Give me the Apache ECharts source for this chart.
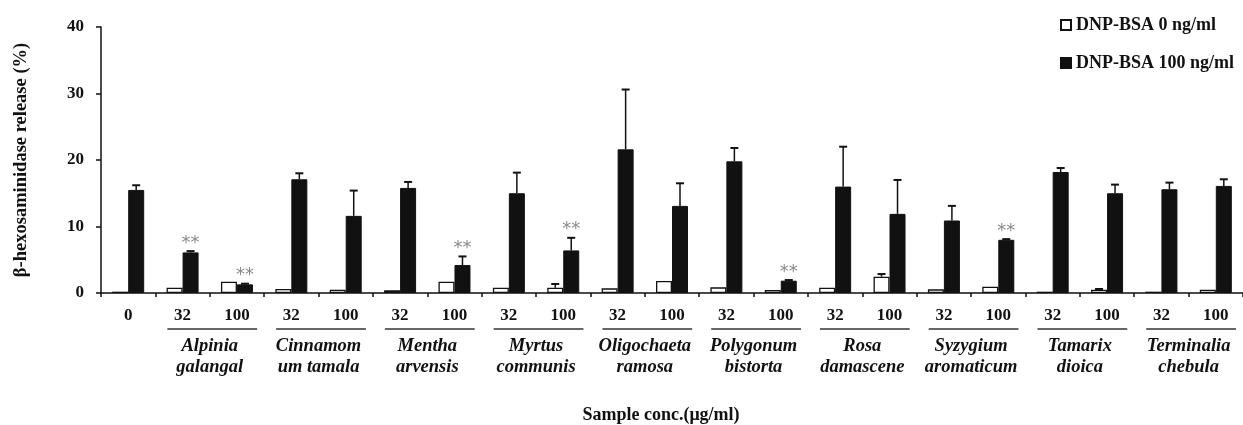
<!DOCTYPE html>
<html>
<head>
<meta charset="utf-8">
<script src="https://cdn.jsdelivr.net/npm/echarts@6/dist/echarts.min.js"></script>
<style>html,body{margin:0;padding:0;background:#fff;}#c{width:1243px;height:425px;}</style>
</head>
<body>
<div id="c"></div>
<script>
// ---- data ----
const categories = ['0','32','100','32','100','32','100','32','100','32','100','32','100','32','100','32','100','32','100','32','100'];
const species = ['Alpinia\ngalangal','Cinnamom\num tamala','Mentha\narvensis','Myrtus\ncommunis','Oligochaeta\nramosa','Polygonum\nbistorta','Rosa\ndamascene','Syzygium\naromaticum','Tamarix\ndioica','Terminalia\nchebula'];
const ctrlValues = [0.2,0.8,1.7,0.6,0.5,0.4,1.7,0.8,0.8,0.7,1.8,0.85,0.45,0.8,2.45,0.55,0.95,0.2,0.5,0.2,0.5];
const ctrlSD     = [0,0,0,0,0,0,0,0,0.55,0,0,0,0,0,0.4,0,0,0,0.1,0,0];
const stimValues = [15.5,6.1,1.3,17.1,11.6,15.8,4.2,15.0,6.4,21.6,13.1,19.8,1.85,16.0,11.9,10.9,8.0,18.2,15.0,15.6,16.1];
const stimSD     = [0.7,0.2,0.1,0.9,3.8,0.9,1.3,3.1,1.9,9.0,3.4,2.0,0.1,6.0,5.1,2.2,0.1,0.6,1.3,1.0,1.0];
const significant = [1,2,6,8,12,16];
const yTicks = [0,10,20,30,40];
const seriesNames = ['DNP-BSA 0 ng/ml','DNP-BSA 100 ng/ml'];

// ---- chart ----
const FONT = '"Liberation Serif", "Times New Roman", serif';
const BAR_W = 16;
const chart = echarts.init(document.getElementById('c'), null, {renderer:'canvas'});

function errRender(sign){
  return function(params, api){
    const x = api.value(0), v = api.value(1), e = api.value(2);
    if (!e) return null;
    const p0 = api.coord([x, v]);
    const p1 = api.coord([x, v + e]);
    const cx = p0[0] + sign * BAR_W / 2;
    return {type:'group', children:[
      {type:'line', shape:{x1:cx, y1:p0[1], x2:cx, y2:p1[1]}, style:{stroke:'#111', lineWidth:1.5}},
      {type:'line', shape:{x1:cx-4, y1:p1[1], x2:cx+4, y2:p1[1]}, style:{stroke:'#111', lineWidth:2}}
    ]};
  };
}

const ctrlErrData = categories.map((c,i)=>[i, ctrlValues[i], ctrlSD[i]]);
const stimErrData = categories.map((c,i)=>[i, stimValues[i], stimSD[i]]);
const sigData = significant.map(i=>[i, stimValues[i] + stimSD[i]]);
const speciesData = species.map((s,i)=>[1 + 2*i, 0, i]);

chart.setOption({
  animation:false,
  backgroundColor:'#fff',
  grid:{left:101, top:27, width:1146, bottom:132, containLabel:false},
  legend:{
    orient:'vertical', right:4, top:11, itemGap:20,
    itemWidth:10, itemHeight:10, icon:'rect',
    textStyle:{fontFamily:FONT, fontWeight:'bold', fontSize:18, color:'#111'},
    data:seriesNames
  },
  xAxis:{
    type:'category', data:categories,
    axisLine:{lineStyle:{color:'#111', width:1.5}},
    axisTick:{show:true, alignWithLabel:false, length:4, lineStyle:{color:'#111', width:1.5}},
    axisLabel:{margin:14, fontFamily:FONT, fontWeight:'bold', fontSize:17, color:'#111', interval:0}
  },
  yAxis:{
    type:'value', min:0, max:40, interval:10,
    name:'β-hexosaminidase release (%)', nameLocation:'middle', nameGap:70, nameRotate:90,
    nameTextStyle:{fontFamily:FONT, fontWeight:'bold', fontSize:18.5, color:'#111'},
    splitLine:{show:false},
    axisLine:{show:true, lineStyle:{color:'#111', width:1.5}},
    axisTick:{show:true, length:5, lineStyle:{color:'#111', width:1.5}},
    axisLabel:{margin:17, fontFamily:FONT, fontWeight:'bold', fontSize:17, color:'#111',
      formatter:(v)=> yTicks.indexOf(v) >= 0 ? String(v) : ''}
  },
  graphic:[{
    type:'text', x:661, top:406,
    style:{text:'Sample conc.(μg/ml)', fontFamily:FONT, fontWeight:'bold', fontSize:18, fill:'#111', textAlign:'center'}
  }],
  series:[
    {name:seriesNames[0], type:'bar', data:ctrlValues, barWidth:BAR_W, barGap:'0%',
      itemStyle:{color:'#fff', borderColor:'#111', borderWidth:1.3}},
    {name:seriesNames[1], type:'bar', data:stimValues, barWidth:BAR_W, barGap:'0%',
      itemStyle:{color:'#111', borderColor:'#111', borderWidth:1}},
    {type:'custom', renderItem:errRender(-1), data:ctrlErrData, z:5, silent:true},
    {type:'custom', renderItem:errRender(1), data:stimErrData, z:5, silent:true},
    {type:'custom', data:sigData, z:6, silent:true,
      renderItem:function(params, api){
        const p = api.coord([api.value(0), api.value(1)]);
        return {type:'text', x:p[0] + BAR_W/2, y:p[1] - 8,
          style:{text:'**', fontFamily:'"DejaVu Sans", sans-serif', fontSize:18, fill:'#8a8a8a',
            textAlign:'center', textVerticalAlign:'middle'}};
      }},
    {type:'custom', data:speciesData, z:6, silent:true, clip:false,
      renderItem:function(params, api){
        const p = api.coord([api.value(0), 0]);
        const bw = api.size([1, 0])[0];
        const left = p[0] - bw/2, right = left + 2*bw;
        const y0 = p[1];
        return {type:'group', children:[
          {type:'line', shape:{x1:left+12, y1:y0+36, x2:right-7, y2:y0+36}, style:{stroke:'#333', lineWidth:1.5}},
          {type:'text', x:left + bw, y:y0 + 43,
            style:{text:species[api.value(2)], fontFamily:FONT, fontWeight:'bold', fontStyle:'italic',
              fontSize:18.5, lineHeight:21, fill:'#111', textAlign:'center', textVerticalAlign:'top'}}
        ]};
      }}
  ]
});
</script>
</body>
</html>
